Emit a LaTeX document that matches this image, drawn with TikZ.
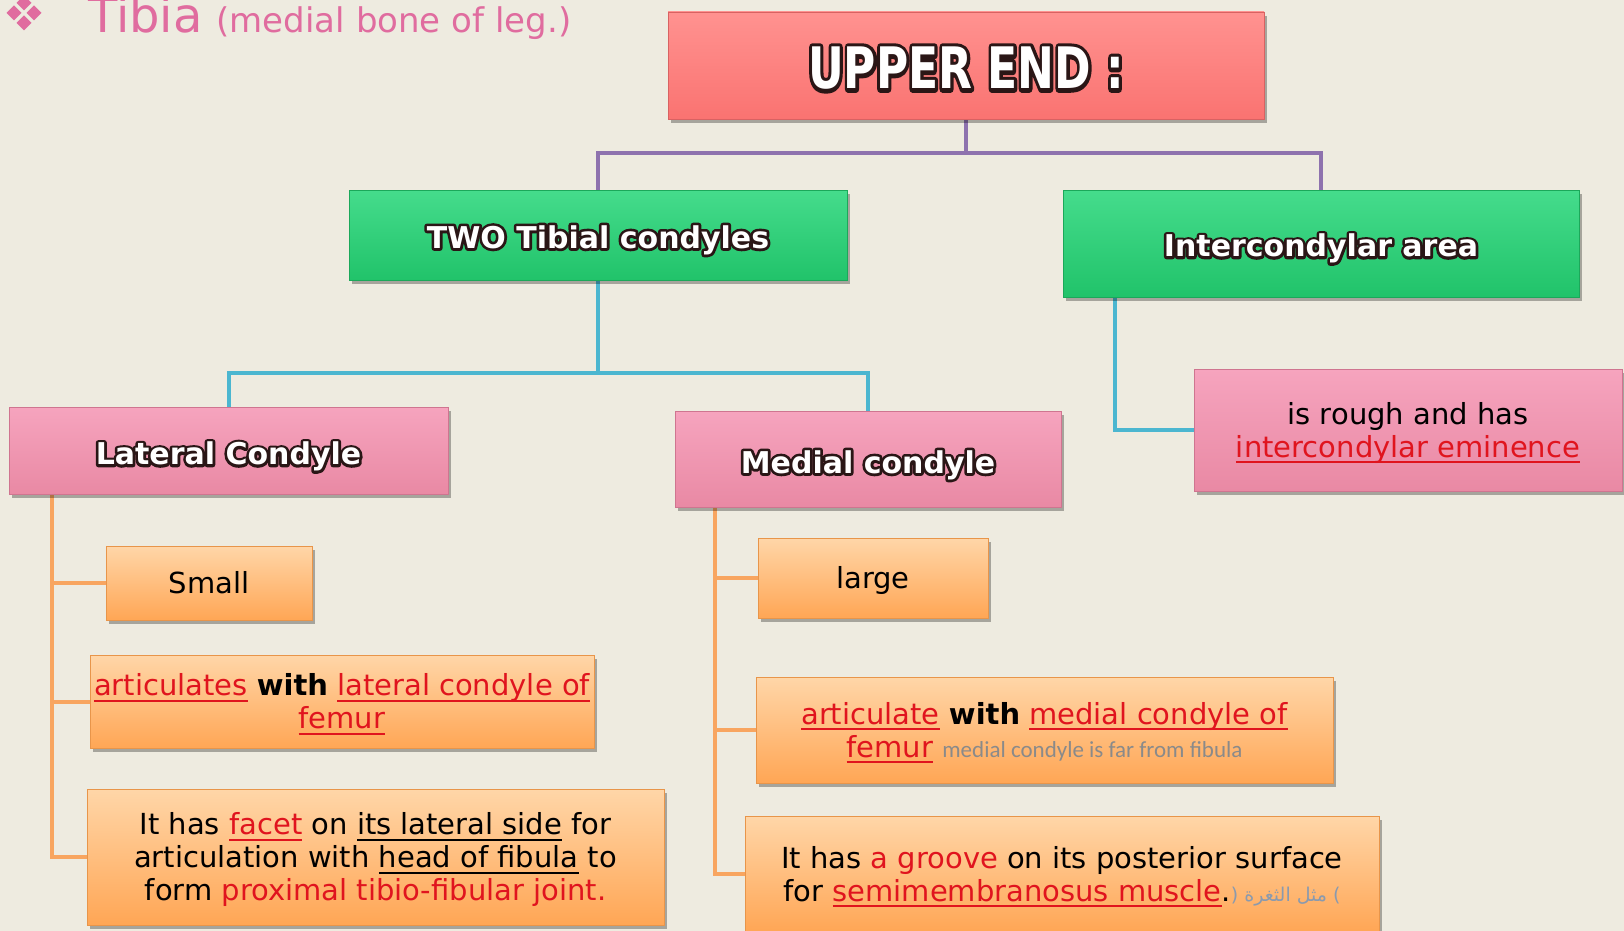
\documentclass[tikz,border=0pt]{standalone}
\usepackage{fontspec}
\usepackage{graphicx}
\setmainfont{DejaVu Sans}
\newfontfamily\carl{Carlito}
\newfontfamily\arabicfont[Script=Arabic]{DejaVu Sans}
\TeXXeTstate=1
\usetikzlibrary{shadows}
\definecolor{bgc}{HTML}{EEEBE0}
\definecolor{upT}{HTML}{FF9290}
\definecolor{upB}{HTML}{FA7371}
\definecolor{upD}{HTML}{D86262}
\definecolor{grT}{HTML}{45DC8C}
\definecolor{grB}{HTML}{21C36A}
\definecolor{grD}{HTML}{1BA85A}
\definecolor{pkT}{HTML}{F6A4BE}
\definecolor{pkB}{HTML}{E989A4}
\definecolor{pkD}{HTML}{CF7590}
\definecolor{orT}{HTML}{FFD6A8}
\definecolor{orB}{HTML}{FFA655}
\definecolor{orD}{HTML}{E8954A}
\definecolor{purp}{HTML}{8E72AE}
\definecolor{tealc}{HTML}{4BB6D0}
\definecolor{orl}{HTML}{F8A560}
\definecolor{redt}{HTML}{E0141E}
\definecolor{grayt}{HTML}{8A8A8A}
\definecolor{arabg}{HTML}{8A9AAE}
\definecolor{pinkt}{HTML}{E06C9F}
\definecolor{outlc}{HTML}{2A1616}
\newsavebox\obox
\newcommand\outl[2][5.4]{\setbox\obox\hbox{#2}%
 \rlap{\color{outlc}\special{pdf:literal direct 2 Tr #1 w 1 j 1 J}\copy\obox\special{pdf:literal direct 0 Tr}}%
 {\color{white}\copy\obox}}
\newcommand\ttl[2][-5pt]{\raisebox{#1}[\height][\depth]{\outl{#2}}}
\newcommand\dn[1]{\raisebox{-4pt}[\height][\depth]{\begin{tabular}{@{}c@{}}#1\end{tabular}}}
\newsavebox\ubox
\newcommand\myul[2][2pt]{\leavevmode\setbox\ubox\hbox{#2}\rlap{\rule[-6pt]{\wd\ubox}{#1}}\copy\ubox}
\newcommand\ured[1]{{\color{redt}\myul{#1}}}
\newcommand\ublk[1]{\myul[1.6pt]{#1}}
\newcommand\redt[1]{{\color{redt}#1}}
\pgfdeclarelayer{bgl}
\pgfdeclarelayer{lines}
\pgfsetlayers{bgl,lines,main}
\tikzset{
 boxbase/.style={rectangle, inner sep=0pt, line width=0.8pt,
   drop shadow={shadow xshift=3pt, shadow yshift=-4pt, opacity=0.3, fill=black}},
 redbox/.style={boxbase, top color=upT, bottom color=upB, draw=upD},
 greenbox/.style={boxbase, top color=grT, bottom color=grB, draw=grD},
 pinkbox/.style={boxbase, top color=pkT, bottom color=pkB, draw=pkD},
 orangebox/.style={boxbase, top color=orT, bottom color=orB, draw=orD},
 titletext/.style={font=\bfseries\fontsize{30}{34}\selectfont},
 bodytext/.style={font=\fontsize{29}{33}\selectfont},
 purpline/.style={draw=purp, line width=4pt},
 tealline/.style={draw=tealc, line width=4pt},
 orline/.style={draw=orl, line width=4pt},
}
\begin{document}
\begin{tikzpicture}[x=1pt,y=-1pt]
\begin{pgfonlayer}{bgl}
\fill[bgc] (0,0) rectangle (1624,931);
\end{pgfonlayer}
\useasboundingbox (0,0) rectangle (1624,931);

% title
\foreach \dx/\dy in {-10/0,10/0,0/-10,0/10}
  \fill[pinkt] (24+\dx,13+\dy) ++(-7.5,0) -- ++(7.5,-7.5) -- ++(7.5,7.5) -- ++(-7.5,7.5) -- cycle;
\node[anchor=base west, inner sep=0pt, text=pinkt] (ttl) at (88,33)
  {{\fontsize{48}{48}\selectfont Tibia}\hspace{14pt}{\fontsize{34}{34}\selectfont (medial bone of leg.)}};

% boxes
\node[redbox, minimum width=596pt, minimum height=107pt] (upper) at (966,65.5)
  {\bfseries\fontsize{44}{44}\selectfont\raisebox{-3pt}[\height][\depth]{\scalebox{1}[1.3]{\outl[6]{UPPER END :}}}};
\node[greenbox, minimum width=498pt, minimum height=90pt, titletext] (two) at (598,235)
  {\ttl{TWO Tibial condyles}};
\node[greenbox, minimum width=516pt, minimum height=107pt, titletext] (inter) at (1321,243.5)
  {\ttl{Intercondylar area}};
\node[pinkbox, minimum width=439pt, minimum height=87pt, titletext] (lat) at (228.5,450.5)
  {\ttl[-6pt]{Lateral Condyle}};
\node[pinkbox, minimum width=386pt, minimum height=96pt, titletext] (med) at (868,459)
  {\ttl[-6pt]{Medial condyle}};
\node[pinkbox, minimum width=428pt, minimum height=122pt, bodytext] (rough) at (1408,430)
  {\dn{is rough and has\\ \ured{intercondylar eminence}}};
\node[orangebox, minimum width=206pt, minimum height=74pt, bodytext] (small) at (209,583)
  {\dn{Small}};
\node[orangebox, minimum width=504pt, minimum height=93pt, bodytext] (artl) at (342,701.5)
  {\dn{\ured{articulates} \textbf{with} \ured{lateral condyle of}\\ \ured{femur}}};
\node[orangebox, minimum width=577pt, minimum height=136pt, bodytext] (facet) at (375.5,857)
  {\dn{It has \ured{facet} on \ublk{its lateral side} for\\ articulation with \ublk{head of fibula} to\\ form \redt{proximal tibio-fibular joint.}}};
\node[orangebox, minimum width=230pt, minimum height=80pt, bodytext] (large) at (873,578)
  {\dn{large}};
\node[orangebox, minimum width=577pt, minimum height=106pt, bodytext] (artm) at (1044.5,730)
  {\dn{\ured{articulate} \textbf{with} \ured{medial condyle of}\\ \ured{femur} {\carl\color{grayt}\fontsize{23}{23}\selectfont medial condyle is far from fibula}}};
\node[orangebox, minimum width=634pt, minimum height=116pt, bodytext] (groove) at (1062,874)
  {\dn{It has \redt{a groove} on its posterior surface\\ for \ured{semimembranosus muscle}.{\color{arabg}\fontsize{19}{19}\selectfont\arabicfont( \beginR مثل الثغرة\endR{} )}}};

% connectors
\coordinate (pj) at (966,153);
\coordinate (tj) at (598,373);
\coordinate (ix) at (1115,0);
\coordinate (olx) at (52,0);
\coordinate (orx) at (715,0);
\begin{pgfonlayer}{lines}
\draw[purpline] (upper.south) -- (pj);
\draw[purpline] (two.north) |- (pj) -| (inter.north);
\draw[tealline] (two.south) -- (tj);
\draw[tealline] (lat.north) |- (tj) -| (med.north);
\draw[tealline] (inter.south -| ix) |- (rough.west);
\draw[orline] (lat.south -| olx) |- (facet.west);
\draw[orline] (small.west -| olx) -- (small.west);
\draw[orline] (artl.west -| olx) -- (artl.west);
\draw[orline] (med.south -| orx) |- (groove.west);
\draw[orline] (large.west -| orx) -- (large.west);
\draw[orline] (artm.west -| orx) -- (artm.west);
\end{pgfonlayer}
\end{tikzpicture}
\end{document}
